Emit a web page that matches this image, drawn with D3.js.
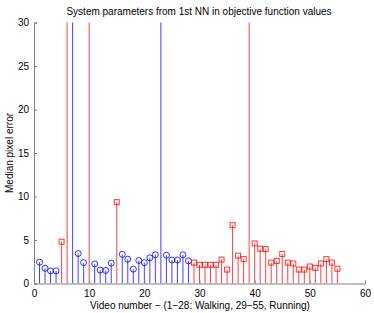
<!DOCTYPE html>
<html>
<head>
<meta charset="utf-8">
<script src="https://cdn.jsdelivr.net/npm/d3@7"></script>
<style>
  body { margin: 0; background: #fff; }
  text { font-family: "Liberation Sans", Arial, sans-serif; }
</style>
</head>
<body>
<svg width="374" height="313"></svg>
<script>
// video numbers 1..55
const videos = [1,2,3,4,5,6,7,8,9,10,11,12,13,14,15,16,17,18,19,20,21,22,23,24,25,26,27,28,
  29,30,31,32,33,34,35,36,37,38,39,40,41,42,43,44,45,46,47,48,49,50,51,52,53,54,55];
// median pixel error (values above 30 run off the top of the axes)
const errors = [2.45,1.75,1.45,1.45,4.8,50,50,3.45,2.4,50,2.25,1.55,1.5,2.35,9.35,3.35,2.8,1.65,2.65,2.4,2.95,3.3,50,3.25,2.7,2.7,3.3,2.6,
  2.4,2.15,2.15,2.15,2.15,2.75,1.6,6.7,3.2,2.8,50,4.6,4.0,3.95,2.4,2.6,3.4,2.4,2.3,1.6,1.6,1.95,1.8,2.3,2.8,2.4,1.7];
// marker: o = blue circle, s = red square
const marks = ["o","o","o","o","s","s","o","o","o","s","o","o","o","o","s","o","o","o","o","o","o","o","o","o","o","o","o","o",
  "s","s","s","s","s","s","s","s","s","s","s","s","s","s","s","s","s","s","s","s","s","s","s","s","s","s","s"];
const xTicks = [0,10,20,30,40,50,60];
const yTicks = [0,5,10,15,20,25,30];

const data = videos.map((v, i) => ({v: v, e: errors[i], m: marks[i]}));

const svg = d3.select("svg");
const x = d3.scaleLinear().domain([0, 60]).range([34, 365]);
const y = d3.scaleLinear().domain([0, 30]).range([283.5, 22.5]);
const col = m => m === "o" ? "#0000ff" : "#ff0000";

svg.append("clipPath").attr("id", "clip")
  .append("rect").attr("x", 30).attr("y", y(30)).attr("width", 340).attr("height", y(0) - y(30));

const g = svg.append("g").attr("clip-path", "url(#clip)");

// stems
g.selectAll(".stem")
  .data(data)
  .enter().append("line")
  .attr("class", "stem")
  .attr("x1", d => x(d.v)).attr("x2", d => x(d.v))
  .attr("y1", y(0)).attr("y2", d => y(d.e))
  .attr("stroke", d => col(d.m))
  .attr("stroke-width", 1)
  .attr("opacity", 0.75);

// markers
g.selectAll(".circ")
  .data(data.filter(d => d.m === "o"))
  .enter().append("circle")
  .attr("cx", d => x(d.v)).attr("cy", d => y(d.e))
  .attr("r", 3)
  .attr("fill", "none")
  .attr("stroke", "#0000ff")
  .attr("opacity", 0.8);

g.selectAll(".sq")
  .data(data.filter(d => d.m === "s"))
  .enter().append("rect")
  .attr("x", d => x(d.v) - 2.5).attr("y", d => y(d.e) - 2.5)
  .attr("width", 5).attr("height", 5)
  .attr("fill", "none")
  .attr("stroke", "#ff0000")
  .attr("opacity", 0.8);

// axes, MATLAB style with inward ticks
const xAxis = svg.append("g")
  .attr("transform", "translate(0," + y(0) + ")")
  .call(d3.axisBottom(x).tickValues(xTicks).tickSizeInner(-3).tickSizeOuter(-3).tickPadding(6));
const yAxis = svg.append("g")
  .attr("transform", "translate(" + x(0) + ",0)")
  .call(d3.axisLeft(y).tickValues(yTicks).tickSizeInner(-3).tickSizeOuter(-3).tickPadding(5));

[xAxis, yAxis].forEach(a => {
  a.selectAll("path, line").attr("stroke", "#808080");
  a.selectAll("text").attr("fill", "#000").style("font-size", "10px")
    .style("font-family", "'Liberation Sans', Arial, sans-serif");
});

svg.append("text")
  .attr("x", 199).attr("y", 15)
  .attr("text-anchor", "middle")
  .style("font-size", "10px")
  .text("System parameters from 1st NN in objective function values");

svg.append("text")
  .attr("x", 200).attr("y", 309)
  .attr("text-anchor", "middle")
  .style("font-size", "10px")
  .text("Video number − (1−28: Walking, 29−55, Running)");

svg.append("text")
  .attr("transform", "translate(13," + ((y(0) + y(30)) / 2) + ") rotate(-90)")
  .attr("text-anchor", "middle")
  .style("font-size", "10px")
  .text("Median pixel error");
</script>
</body>
</html>
